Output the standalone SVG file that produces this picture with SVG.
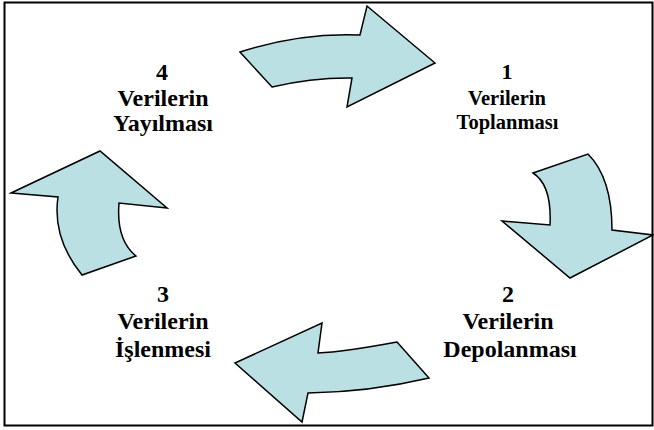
<svg xmlns="http://www.w3.org/2000/svg" width="654" height="430" viewBox="0 0 654 430">
<style>
.arr{fill:#BBE0E3;stroke:#000;stroke-width:1.5;stroke-linejoin:miter}
.t{font-family:"Liberation Serif","Times New Roman",serif;font-weight:bold;font-size:24px;fill:#000;text-anchor:middle}
.s{font-size:20.5px}
</style>
<rect x="0" y="0" width="654" height="430" fill="#fff"/>
<rect x="4.5" y="2.5" width="648" height="423" fill="none" stroke="#000" stroke-width="2"/>
<g id="connectors">
<path class="arr" d="M240,52 Q300,32.5 360,35 L367,6 L435,63 L347,107 L352,78 Q312,77.5 272,87 Z"/>
<path class="arr" d="M533,173 L588,154 Q612,178 612,230 L653,235 L570,278 L502,221 L550,225 Q552,185 533,173 Z"/>
<path class="arr" d="M397,342 L429,378 Q370,392 308,393 L302,422 L235,363 L322,323 L318,353 Q343,352 397,342 Z"/>
<path class="arr" d="M11,193 L100,151 L167,208 L119,203 Q116,240 136,256 L82,275 Q52,238 58,197 Z"/>
</g>
<g id="node1">
<text class="t" x="507" y="79" style="font-size:22px">1</text>
<text class="t s" x="507" y="105">Verilerin</text>
<text class="t s" x="507.5" y="129">Toplanması</text>
</g>
<g id="node2">
<text class="t" x="508" y="302">2</text>
<text class="t" x="508" y="329">Verilerin</text>
<text class="t" x="510" y="357">Depolanması</text>
</g>
<g id="node3">
<text class="t" x="163" y="302">3</text>
<text class="t" x="163" y="329">Verilerin</text>
<text class="t" x="163" y="357">İşlenmesi</text>
</g>
<g id="node4">
<text class="t" x="162" y="80">4</text>
<text class="t" x="163" y="105.5">Verilerin</text>
<text class="t" x="163" y="131">Yayılması</text>
</g>
</svg>
